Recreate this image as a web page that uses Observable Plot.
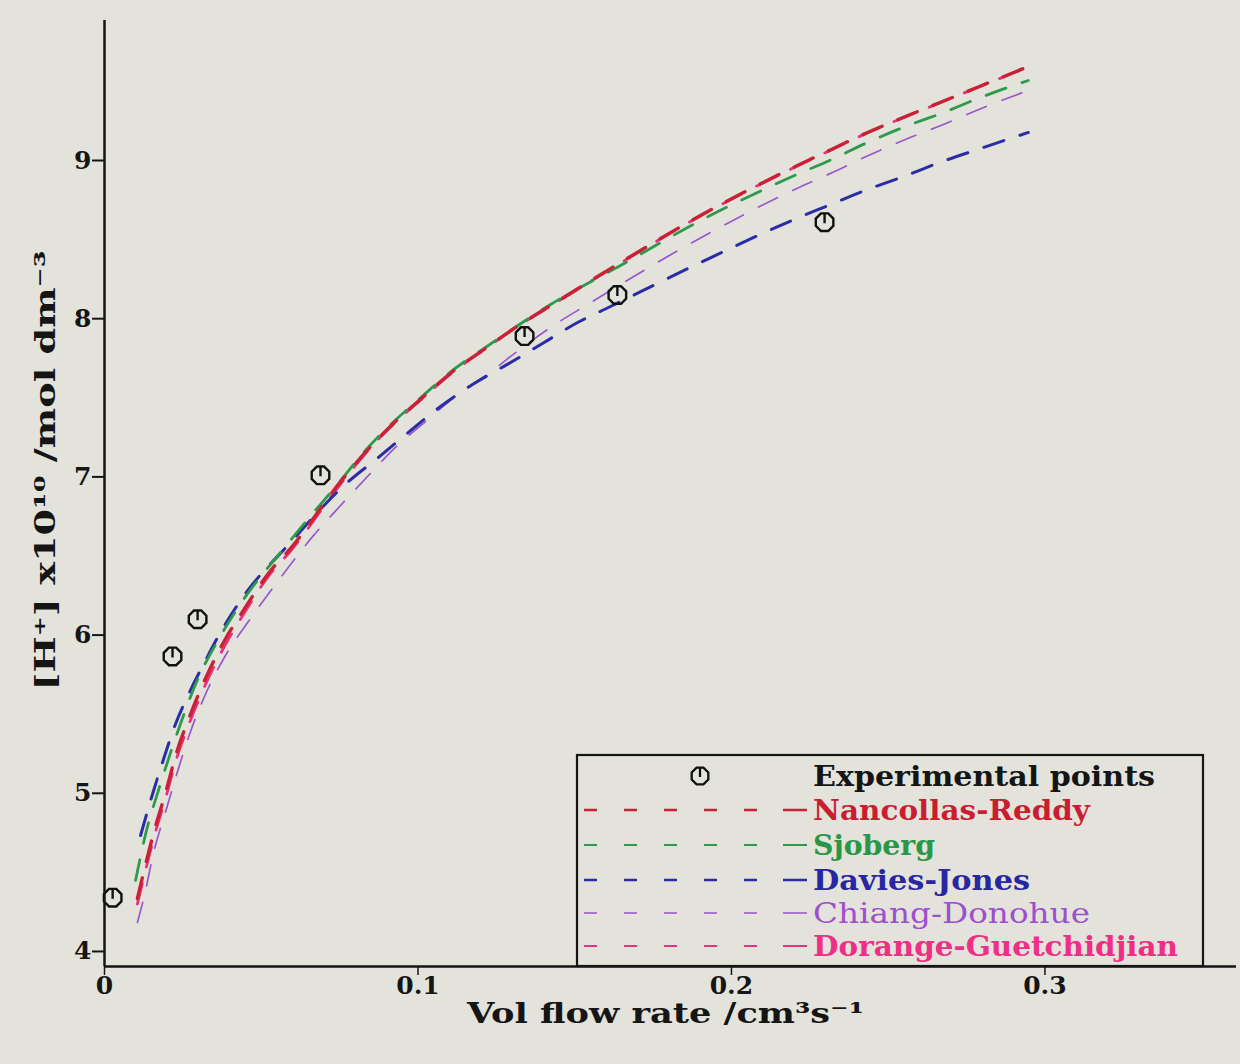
<!DOCTYPE html>
<html><head><meta charset="utf-8">
<script src="https://cdn.jsdelivr.net/npm/d3@7"></script>
<script src="https://cdn.jsdelivr.net/npm/@observablehq/plot@0.6"></script>
<style>
body{margin:0;background:#e3e3db;}
#wrap{position:relative;width:1240px;height:1064px;overflow:hidden;}
#legend{position:absolute;left:0;top:0;pointer-events:none;}
</style></head><body><div id="wrap"></div>
<script>
// Experimental points
const expFlow = [0.0026, 0.0217, 0.0297, 0.0689, 0.1340, 0.1636, 0.2297];
const expH    = [4.34,   5.865,  6.10,   7.01,   7.89,   8.15,   8.61];

// Model curves: [flow, [H+]x1e10]
const nancollasReddy = [[0.0105,4.335],[0.0128,4.525],[0.0159,4.765],[0.0195,5.005],[0.0230,5.258],[0.0274,5.498],[0.0325,5.738],[0.0383,5.966],[0.0443,6.156],[0.0530,6.408],[0.0593,6.547],[0.0753,6.97],[0.0829,7.148],[0.0915,7.325],[0.1011,7.496],[0.1107,7.660],[0.1215,7.812],[0.1321,7.957],[0.1423,8.083],[0.1646,8.355],[0.1901,8.652],[0.2204,8.962],[0.2319,9.070],[0.2434,9.177],[0.2555,9.278],[0.2673,9.373],[0.2791,9.468],[0.2947,9.594]];
const sjoberg = [[0.0099,4.449],[0.0134,4.765],[0.0172,5.018],[0.0211,5.258],[0.0252,5.492],[0.0297,5.719],[0.0360,5.960],[0.0424,6.168],[0.0593,6.598],[0.0753,6.977],[0.0829,7.16],[0.0915,7.335],[0.1011,7.505],[0.1107,7.668],[0.1215,7.818],[0.1321,7.960],[0.1423,8.09],[0.1646,8.336],[0.1901,8.62],[0.2201,8.905],[0.2319,9.006],[0.2434,9.114],[0.2555,9.215],[0.2676,9.303],[0.2794,9.398],[0.2947,9.506]];
const daviesJones = [[0.0115,4.733],[0.0147,4.954],[0.0185,5.195],[0.0226,5.435],[0.0274,5.650],[0.0322,5.839],[0.0364,5.997],[0.0434,6.219],[0.0593,6.585],[0.0775,6.965],[0.0874,7.123],[0.0973,7.287],[0.1072,7.445],[0.1174,7.584],[0.1285,7.711],[0.1397,7.843],[0.1509,7.976],[0.1614,8.077],[0.1901,8.355],[0.2195,8.623],[0.2309,8.716],[0.2434,8.817],[0.2549,8.899],[0.2673,8.994],[0.2794,9.076],[0.2947,9.177]];
const chiangDonohue = [[0.0105,4.183],[0.0131,4.386],[0.0153,4.594],[0.0198,4.904],[0.0239,5.176],[0.0278,5.410],[0.0329,5.656],[0.0386,5.871],[0.0466,6.105],[0.0536,6.295],[0.0667,6.630],[0.0753,6.819],[0.0842,7.009],[0.0928,7.186],[0.1024,7.350],[0.1123,7.515],[0.1225,7.654],[0.1333,7.818],[0.1432,7.957],[0.1541,8.090],[0.1869,8.475],[0.2207,8.822],[0.2322,8.924],[0.2437,9.032],[0.2555,9.133],[0.2676,9.228],[0.2797,9.329],[0.2947,9.443]];
const dorangeGuetchidjian = [[0.0105,4.30],[0.0128,4.49],[0.0159,4.73],[0.0195,4.97],[0.0230,5.22],[0.0274,5.46],[0.0325,5.70],[0.0383,5.93],[0.0443,6.13],[0.0530,6.39],[0.0593,6.53],[0.0753,6.955],[0.0829,7.14],[0.0915,7.32],[0.1011,7.49],[0.1107,7.655],[0.1215,7.81],[0.1321,7.955],[0.1423,8.08],[0.1646,8.352],[0.1901,8.65],[0.2204,8.96],[0.2319,9.068],[0.2434,9.175],[0.2555,9.276],[0.2673,9.371],[0.2791,9.466],[0.2947,9.592]];

const xTicks = [0, 0.1, 0.2, 0.3];
const yTicks = [4, 5, 6, 7, 8, 9];
const xLabel = "Vol flow rate /cm³s⁻¹";
const yLabel = "[H⁺] x10¹⁰ /mol dm⁻³";

const legendItems = [
  {name: "Nancollas-Reddy", color: "#c92234", text: "#c81e30", w: 2.6, bold: true, len: 277},
  {name: "Sjoberg", color: "#2e9a4c", text: "#2a9646", w: 2.0, bold: true, len: 122},
  {name: "Davies-Jones", color: "#2b2ca6", text: "#2826a0", w: 2.4, bold: true, len: 217},
  {name: "Chiang-Donohue", color: "#9a56cc", text: "#9c4fcf", w: 1.5, bold: false, len: 277},
  {name: "Dorange-Guetchidjian", color: "#e8307c", text: "#ee2f86", w: 2.0, bold: true, len: 365}
];

const clock = {
  draw(ctx, size) {
    const r = Math.sqrt(size / Math.PI);
    for (let i = 0; i <= 8; i++) {
      const a = Math.PI / 8 + i * Math.PI / 4;
      const px = r * Math.cos(a), py = r * Math.sin(a);
      if (i === 0) ctx.moveTo(px, py); else ctx.lineTo(px, py);
    }
    ctx.closePath();
    ctx.moveTo(0, -r * 0.92);
    ctx.lineTo(0, r * 0.1);
  }
};

const pts = expFlow.map((x, i) => ({x, y: expH[i]}));
const rows = a => a.map(([x, y]) => ({x, y}));
const dash = "21,17";
const yMin = 3.905, yMax = 9.885;

const plot = Plot.plot({
  width: 1240, height: 1064,
  marginLeft: 104, marginRight: 4, marginTop: 20, marginBottom: 98,
  style: {background: "#e3e3db", fontFamily: "'DejaVu Serif', serif", fontWeight: "bold", fontSize: "25px", color: "#151515"},
  x: {domain: [0, 0.3611]},
  y: {domain: [yMin, yMax]},
  marks: [
    Plot.line(rows(dorangeGuetchidjian), {x: "x", y: "y", stroke: "#e8307c", strokeWidth: 2.8, strokeDasharray: dash, curve: "monotone-x"}),
    Plot.line(rows(chiangDonohue), {x: "x", y: "y", stroke: "#9a56cc", strokeWidth: 1.7, strokeDasharray: dash, curve: "monotone-x"}),
    Plot.line(rows(daviesJones), {x: "x", y: "y", stroke: "#2b2ca6", strokeWidth: 3.0, strokeDasharray: dash, curve: "monotone-x"}),
    Plot.line(rows(sjoberg), {x: "x", y: "y", stroke: "#2e9a4c", strokeWidth: 2.8, strokeDasharray: dash, curve: "monotone-x"}),
    Plot.line(rows(nancollasReddy), {x: "x", y: "y", stroke: "#c92234", strokeWidth: 3.4, strokeDasharray: dash, curve: "monotone-x"}),
    Plot.dot(pts, {x: "x", y: "y", r: 9.5, symbol: clock, stroke: "#111", strokeWidth: 2.4, fill: "none"}),
    Plot.ruleX([0], {stroke: "#151515", strokeWidth: 2.5}),
    Plot.ruleY([yMin], {stroke: "#151515", strokeWidth: 2.5}),
    Plot.axisX({ticks: xTicks, tickSize: 9, tickPadding: 1, strokeWidth: 1.5, label: null, fontSize: 25,
      tickFormat: d => d === 0 ? "0" : d3.format(".1f")(d)}),
    Plot.axisY({ticks: yTicks, tickSize: 12, tickPadding: 1, strokeWidth: 2, label: null, fontSize: 25, tickFormat: d => String(d)}),
    Plot.text([xLabel], {text: d => d, frameAnchor: "bottom", dx: -5, dy: 48, fontSize: 28, fontWeight: "bold", lineAnchor: "middle", textAnchor: "middle"}),
    Plot.text([yLabel], {text: d => d, frameAnchor: "left", dx: -58, dy: -23, rotate: -90, fontSize: 28, fontWeight: "bold", lineAnchor: "middle", textAnchor: "middle"})
  ]
});
const wrap = document.getElementById("wrap");
wrap.appendChild(plot);

// stretch axis titles to the reference's wide lettering
d3.select(plot).selectAll("text").each(function() {
  const t = this.textContent;
  if (t === xLabel) { this.setAttribute("textLength", 397); this.setAttribute("lengthAdjust", "spacingAndGlyphs"); }
  if (t === yLabel) { this.setAttribute("textLength", 440); this.setAttribute("lengthAdjust", "spacingAndGlyphs"); }
});

// Legend overlay
const svg = d3.select(wrap).append("svg").attr("id", "legend").attr("width", 1240).attr("height", 1064);
svg.append("rect").attr("x", 577).attr("y", 755).attr("width", 626).attr("height", 211)
  .attr("fill", "#e3e3db").attr("stroke", "#151515").attr("stroke-width", 2.2);
const rowY = [776, 810, 845, 880, 913, 946];
svg.append("path").attr("transform", `translate(700,${rowY[0]})`)
  .attr("d", (() => { const p = d3.path(); clock.draw(p, 9 * 9 * Math.PI); return p.toString(); })())
  .attr("fill", "none").attr("stroke", "#111").attr("stroke-width", 2.3);
svg.append("text").attr("x", 813).attr("y", rowY[0] + 9.5).text("Experimental points")
  .attr("font-family", "'DejaVu Serif', serif").attr("font-weight", "bold").attr("font-size", 27)
  .attr("fill", "#151515").attr("textLength", 342).attr("lengthAdjust", "spacingAndGlyphs");
legendItems.forEach((it, i) => {
  const y = rowY[i + 1];
  svg.append("line").attr("x1", 584).attr("x2", 807).attr("y1", y).attr("y2", y)
    .attr("stroke", it.color).attr("stroke-width", it.w)
    .attr("stroke-dasharray", "13 27 13 27 13 27 13 27 13 26 25");
  svg.append("text").attr("x", 813).attr("y", y + 9.5).text(it.name)
    .attr("font-family", "'DejaVu Serif', serif").attr("font-weight", it.bold ? "bold" : "normal").attr("font-size", 27)
    .attr("fill", it.text).attr("textLength", it.len).attr("lengthAdjust", "spacingAndGlyphs");
});
</script></body></html>
